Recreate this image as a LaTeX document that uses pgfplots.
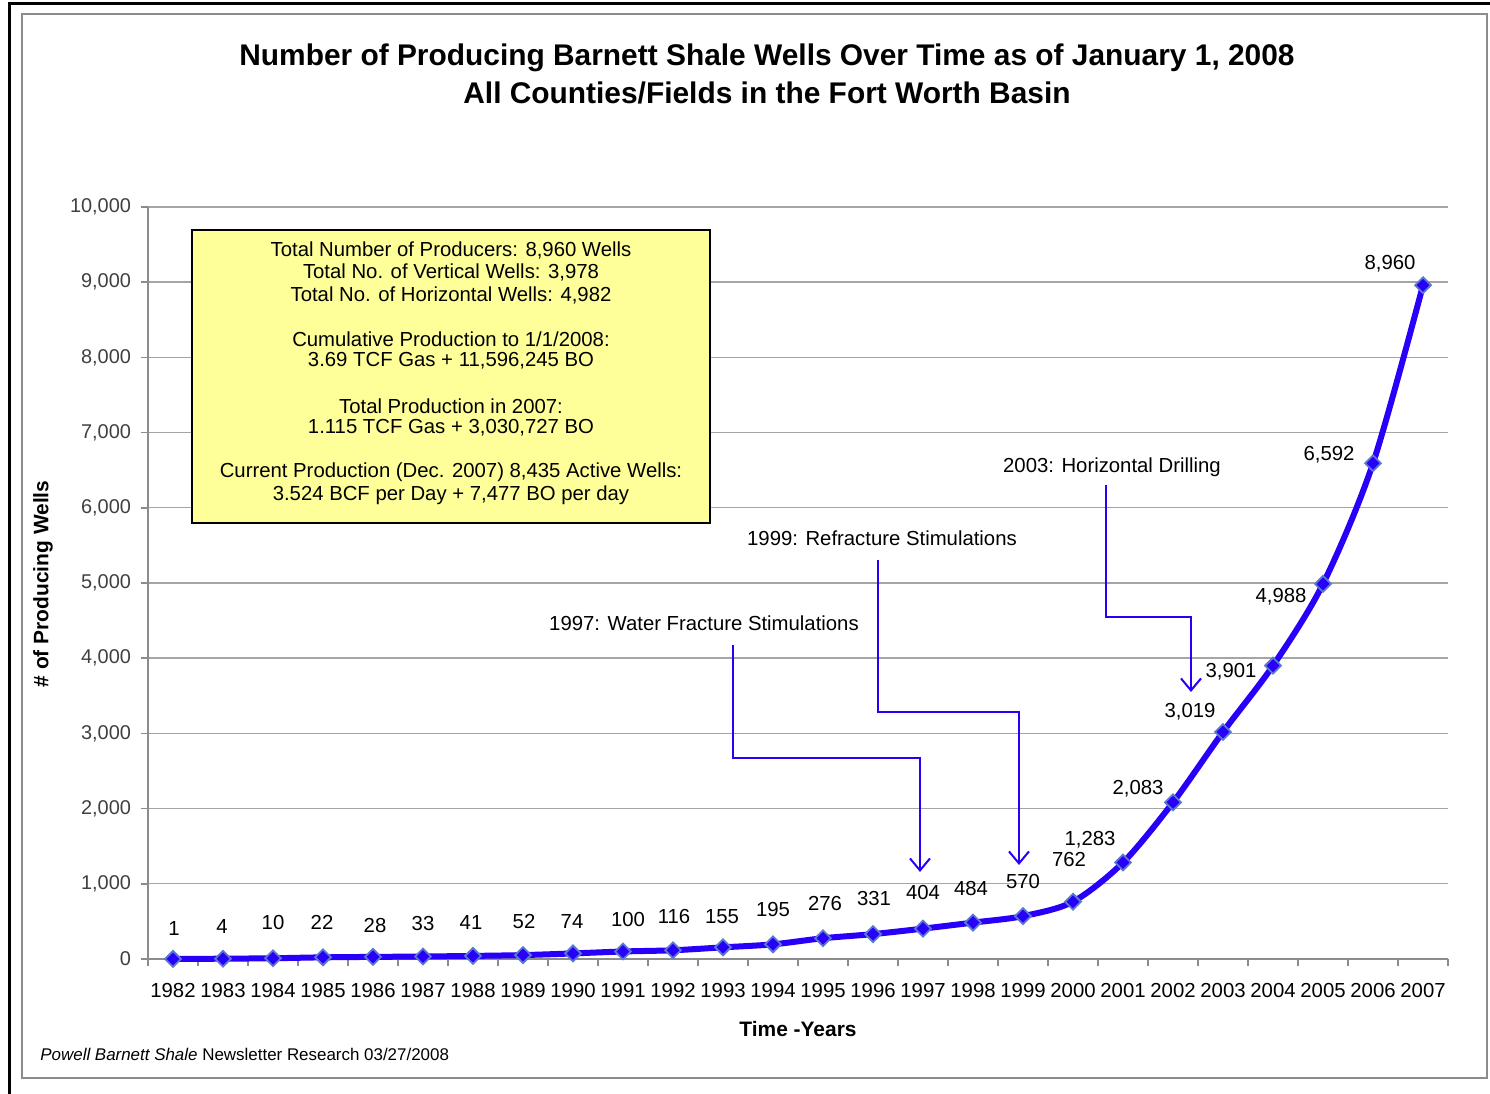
\documentclass[border=0pt]{standalone}
\usepackage{fontspec}
\setmainfont{Liberation Sans}
\usepackage{pgfplots}
\pgfplotsset{compat=1.18}
\usetikzlibrary{arrows.meta}
\definecolor{lineblue}{RGB}{40,0,250}
\definecolor{markedge}{RGB}{90,120,210}
\definecolor{boxyellow}{RGB}{255,255,153}
\definecolor{gridgrey}{RGB}{165,165,165}
\definecolor{framegrey}{RGB}{140,140,140}
\begin{document}
\begin{tikzpicture}[px/.style={x=0.5bp,y=-0.5bp,yshift=547bp}]
\useasboundingbox (0,0) rectangle (745bp,547bp);
\begin{scope}[px]
  \fill[white] (0,0) rectangle (1490,1094);
  \draw[black,line width=1.5bp] (10,1094) -- (10,4) -- (1490,4);
  \draw[framegrey,line width=1.2bp] (22,14) rectangle (1487,1078);
\end{scope}
\begin{axis}[at={(74bp,67.5bp)},anchor=south west,scale only axis,
  width=650bp,height=376bp,
  xmin=-0.5,xmax=25.5,ymin=0,ymax=10000,
  axis x line*=bottom,axis y line*=left,
  axis line style={framegrey,line width=0.8bp,-},
  xtick={-0.5,0.5,...,25.5},xticklabels={},
  extra x ticks={0,...,25},
  extra x tick labels={1982,1983,1984,1985,1986,1987,1988,1989,1990,1991,1992,1993,1994,1995,1996,1997,1998,1999,2000,2001,2002,2003,2004,2005,2006,2007},
  extra x tick style={major tick length=0pt},
  ytick={0,1000,...,10000},
  major tick length=3.5bp,tick align=outside,
  tick style={framegrey,line width=0.8bp},
  ymajorgrids,grid style={gridgrey,line width=0.7bp},
  yticklabel style={font=\fontsize{10}{12}\selectfont,color=black!75,xshift=-1.5bp},
  xticklabel style={font=\fontsize{10.2}{12}\selectfont,yshift=-8.5bp},
  /pgf/number format/assume math mode=true,
  /pgf/number format/1000 sep={,},
  scaled y ticks=false,
  clip=false,
]
\addplot[lineblue,line width=3bp,smooth,tension=0.5,mark=square*,mark size=2.8bp,
  mark options={rotate=45,fill=lineblue,draw=markedge,line width=0.9bp,solid}]
  coordinates {(0,1)(1,4)(2,10)(3,22)(4,28)(5,33)(6,41)(7,52)(8,74)(9,100)(10,116)(11,155)(12,195)(13,276)(14,331)(15,404)(16,484)(17,570)(18,762)(19,1283)(20,2083)(21,3019)(22,3901)(23,4988)(24,6592)(25,8960)};
\begin{scope}[font=\fontsize{10.2}{12}\selectfont]
\node at (axis cs:0.02,399) {1};
\node at (axis cs:0.98,426) {4};
\node at (axis cs:2.0,479) {10};
\node at (axis cs:2.98,492) {22};
\node at (axis cs:4.04,452) {28};
\node at (axis cs:5.0,466) {33};
\node at (axis cs:5.96,479) {41};
\node at (axis cs:7.02,492) {52};
\node at (axis cs:7.98,505) {74};
\node at (axis cs:9.1,519) {100};
\node at (axis cs:10.02,559) {116};
\node at (axis cs:10.98,559) {155};
\node at (axis cs:12.0,652) {195};
\node at (axis cs:13.04,732) {276};
\node at (axis cs:14.02,798) {331};
\node at (axis cs:15.0,878) {404};
\node at (axis cs:15.96,944) {484};
\node at (axis cs:17.0,1024) {570};
\node at (axis cs:17.92,1317) {762};
\node at (axis cs:18.34,1583) {1,283};
\node at (axis cs:19.3,2261) {2,083};
\node at (axis cs:20.34,3285) {3,019};
\node at (axis cs:21.16,3817) {3,901};
\node at (axis cs:22.16,4815) {4,988};
\node at (axis cs:23.12,6703) {6,592};
\node at (axis cs:24.34,9244) {8,960};
\end{scope}
\end{axis}
\begin{scope}[px]
  \node[font=\fontsize{15}{18}\selectfont\bfseries] at (767,58) {Number of Producing Barnett Shale Wells Over Time as of January 1, 2008};
  \node[font=\fontsize{15}{18}\selectfont\bfseries] at (767,93) {All Counties/Fields in the Fort Worth Basin};
  \node[font=\fontsize{10.5}{12}\selectfont\bfseries] at (798,1029) {Time -Years};
  \node[font=\fontsize{10.5}{12}\selectfont\bfseries,rotate=90] at (43,584) {\# of Producing Wells};
  \node[anchor=west,inner sep=0pt,font=\fontsize{8.5}{10}\selectfont] at (40,1054) {\textit{Powell Barnett Shale} Newsletter Research 03/27/2008};
  \draw[fill=boxyellow,line width=1.3bp] (192,230) rectangle (710,523);
  \begin{scope}[font=\fontsize{10.2}{12}\selectfont]
    \node at (451,250) {Total Number of Producers: 8,960 Wells};
    \node at (451,272) {Total No. of Vertical Wells: 3,978};
    \node at (451,295) {Total No. of Horizontal Wells: 4,982};
    \node at (451,339) {Cumulative Production to 1/1/2008:};
    \node at (451,361) {3.69 TCF Gas + 11,596,245 BO};
    \node at (451,406) {Total Production in 2007:};
    \node at (451,428) {1.115 TCF Gas + 3,030,727 BO};
    \node at (451,472) {Current Production (Dec. 2007) 8,435 Active Wells:};
    \node at (451,495) {3.524 BCF per Day + 7,477 BO per day};
    \node at (704,623) {1997: Water Fracture Stimulations};
    \node at (882,538) {1999: Refracture Stimulations};
    \node at (1112,467) {2003: Horizontal Drilling};
  \end{scope}
  \begin{scope}[lineblue,line width=1bp,-{Straight Barb[length=6bp,width=10bp]}]
    \draw (733,645) -- (733,758) -- (920,758) -- (920,872);
    \draw (878,560) -- (878,712) -- (1019,712) -- (1019,865);
    \draw (1106,485) -- (1106,617) -- (1191,617) -- (1191,692);
  \end{scope}
\end{scope}
\end{tikzpicture}
\end{document}
